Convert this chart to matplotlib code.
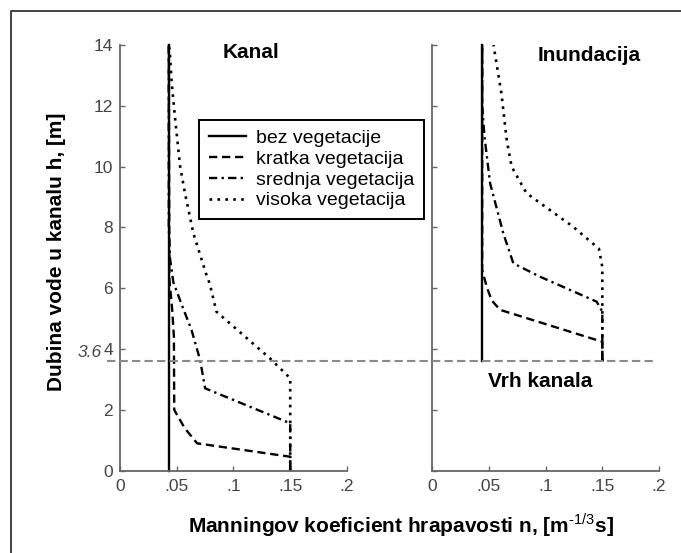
import matplotlib
matplotlib.use("Agg")
import matplotlib.pyplot as plt
from matplotlib.lines import Line2D
from matplotlib.transforms import blended_transform_factory

plt.rcParams["font.family"] = ["Liberation Sans", "DejaVu Sans"]
plt.rcParams["mathtext.fontset"] = "custom"
plt.rcParams["mathtext.rm"] = "Liberation Sans"
plt.rcParams["mathtext.bf"] = "Liberation Sans:bold"

# Kanal (main channel): Manning n against depth h
kanal_bez_n = [0.043, 0.043]
kanal_bez_h = [0.0, 14.0]
kanal_kratka_n = [0.15, 0.15, 0.068, 0.057, 0.0478, 0.0475, 0.046, 0.0435, 0.043]
kanal_kratka_h = [0.0, 0.46, 0.9, 1.4, 2.0, 4.4, 5.3, 6.3, 14.0]
kanal_srednja_n = [0.15, 0.15, 0.075, 0.0706, 0.063, 0.054, 0.047, 0.044, 0.043, 0.043]
kanal_srednja_h = [0.0, 1.56, 2.71, 3.64, 4.63, 5.5, 6.2, 7.0, 8.0, 14.0]
kanal_visoka_n = [0.15, 0.15, 0.132, 0.085, 0.079, 0.0765, 0.0647, 0.0574, 0.053,
                  0.0485, 0.0456, 0.0438, 0.043]
kanal_visoka_h = [0.0, 3.04, 3.7, 5.23, 6.16, 6.4, 7.8, 9.1, 10.0, 11.6, 12.75, 13.8, 14.0]

# Inundacija (floodplain), only above the channel top
inund_bez_n = [0.044, 0.044]
inund_bez_h = [3.6, 14.0]
inund_kratka_n = [0.15, 0.15, 0.0598, 0.0524, 0.048, 0.044, 0.044]
inund_kratka_h = [3.6, 4.24, 5.29, 5.6, 6.05, 6.6, 14.0]
inund_srednja_n = [0.15, 0.15, 0.145, 0.095, 0.0715, 0.0627, 0.051, 0.046, 0.044, 0.044]
inund_srednja_h = [3.6, 5.23, 5.56, 6.38, 6.82, 7.8, 9.45, 11.0, 12.0, 14.0]
inund_visoka_n = [0.15, 0.15, 0.147, 0.124, 0.083, 0.070, 0.0657, 0.061, 0.054]
inund_visoka_h = [3.6, 6.7, 7.3, 8.03, 9.13, 10.0, 10.86, 12.4, 14.0]

vrh_kanala = 3.6
x_ticks = [0, 0.05, 0.1, 0.15, 0.2]
x_labels = ["0", ".05", ".1", ".15", ".2"]
y_ticks = [0, 2, 4, 6, 8, 10, 12, 14]
legend_labels = ["bez vegetacije", "kratka vegetacija",
                 "srednja vegetacija", "visoka vegetacija"]

styles = [
    dict(linestyle="-", linewidth=1.7),
    dict(linestyle=(0, (3.5, 2.0)), linewidth=1.7),
    dict(linestyle=(0, (3.5, 1.8, 1.0, 1.8)), linewidth=1.7),
    dict(linestyle=(0, (1.0, 2.0)), linewidth=1.9),
]

AXIS_GRAY = "#666666"
TEXT_GRAY = "#444444"

fig = plt.figure(figsize=(6.81, 5.53), dpi=100)
ax_k = fig.add_axes([0.1762, 0.1488, 0.3333, 0.7698])
ax_i = fig.add_axes([0.6348, 0.1488, 0.3329, 0.7698])

kanal = [(kanal_bez_n, kanal_bez_h), (kanal_kratka_n, kanal_kratka_h),
         (kanal_srednja_n, kanal_srednja_h), (kanal_visoka_n, kanal_visoka_h)]
inund = [(inund_bez_n, inund_bez_h), (inund_kratka_n, inund_kratka_h),
         (inund_srednja_n, inund_srednja_h), (inund_visoka_n, inund_visoka_h)]

handles = []
for (n, h), st in zip(kanal, styles):
    line, = ax_k.plot(n, h, color="black", clip_on=False, **st)
    handles.append(line)
for (n, h), st in zip(inund, styles):
    ax_i.plot(n, h, color="black", clip_on=False, **st)

for ax in (ax_k, ax_i):
    ax.set_xlim(0, 0.2)
    ax.set_ylim(0, 14)
    ax.set_xticks(x_ticks)
    ax.set_xticklabels(x_labels)
    ax.set_yticks(y_ticks)
    for side in ("top", "right"):
        ax.spines[side].set_visible(False)
    for side in ("left", "bottom"):
        ax.spines[side].set_color(AXIS_GRAY)
        ax.spines[side].set_linewidth(1.3)
    ax.tick_params(direction="in", length=3.5, width=1, color=AXIS_GRAY,
                   labelsize=12.5, labelcolor=TEXT_GRAY)
    ax.tick_params(axis="x", pad=6)
    ax.tick_params(axis="y", pad=5)
    ax.patch.set_alpha(0)
ax_i.set_yticklabels([])

# channel top: dashed line across both panels
trans = blended_transform_factory(fig.transFigure, ax_k.transData)
fig.add_artist(Line2D([107 / 681, 655 / 681], [vrh_kanala, vrh_kanala],
                      transform=trans, color="#8a8a8a", linewidth=1.5,
                      linestyle=(0, (4, 2))))
ax_k.annotate(f"{vrh_kanala}", xy=(0, vrh_kanala), xytext=(-13, 3),
              textcoords="offset points", ha="right", va="baseline",
              fontsize=12.5, style="italic", color=TEXT_GRAY,
              annotation_clip=False)

ax_k.text(0.1156, 13.74, "Kanal", fontsize=15, fontweight="bold",
          ha="center", va="center")
ax_i.text(0.138, 13.64, "Inundacija", fontsize=15, fontweight="bold",
          ha="center", va="center")
ax_i.text(0.095, 2.95, "Vrh kanala", fontsize=15, fontweight="bold",
          ha="center", va="center")

leg = ax_k.legend(handles, legend_labels, loc="upper left",
                  bbox_to_anchor=(0.348, 0.824), borderaxespad=0,
                  fontsize=14, handlelength=1.9, handletextpad=0.55,
                  labelspacing=0.16, borderpad=0.5, fancybox=False,
                  framealpha=1, edgecolor="black")
leg.get_frame().set_linewidth(1.4)

fig.text(401 / 681, 1 - 525 / 553,
         r"Manningov koeficient hrapavosti n, [m$^{\text{-1/3}}$s]",
         fontsize=15, fontweight="bold", ha="center", va="center")
fig.text(57 / 681, 1 - 252 / 553, "Dubina vode u kanalu h, [m]",
         fontsize=15, fontweight="bold", ha="center", va="center",
         rotation=90)

# outer frame (left and top edges)
fig.add_artist(Line2D([11 / 681, 11 / 681, 1.0], [0.0, 1 - 11 / 553, 1 - 11 / 553],
                      transform=fig.transFigure, color="#333333", linewidth=1.3))

fig.savefig("out.png", dpi=100)
